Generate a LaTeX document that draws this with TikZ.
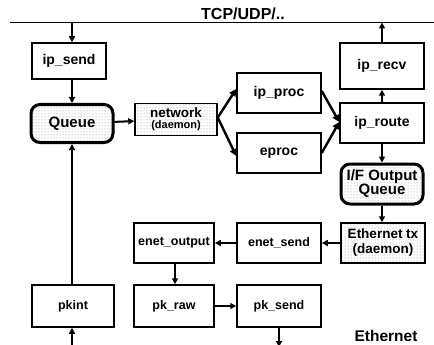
\documentclass[tikz,border=0pt]{standalone}
\usepackage{fontspec}
\setmainfont{Liberation Sans}
\usetikzlibrary{arrows.meta,patterns}
\begin{document}
\begin{tikzpicture}[x=1pt,y=-1pt,
  font=\bfseries\fontsize{14}{15}\selectfont,
  box/.style={draw,line width=1.5pt,minimum width=84pt,minimum height=40pt,inner sep=1pt,align=center},
  small/.style={font=\bfseries\fontsize{12.5}{14}\selectfont},
  dotbox/.style={box,pattern=dots,pattern color=black!45},
  qbox/.style={dotbox,line width=3pt,rounded corners=9pt},
  flow/.style={line width=2pt,-{Triangle[length=6pt,width=6pt]}},
  diag/.style={line width=2.4pt,-{Triangle[length=7pt,width=7pt]}}]
\useasboundingbox (0,0) rectangle (434,345);

% upper protocol layer
\draw[line width=1.6pt] (10,22.5) coordinate (busL) -- (434,22.5) coordinate (busR);
\node[font=\bfseries\fontsize{16}{17}\selectfont,anchor=base] (tcp) at (243,20) {TCP/UDP/..};
\coordinate (busin)  at (72,22.5);
\coordinate (busout) at (382,22.5);

% left column
\node[box,minimum width=74pt,minimum height=36pt] (ipsend) at (69,61) {ip\_send};
\node[qbox,minimum width=82pt,minimum height=38pt,font=\bfseries\fontsize{15}{16}\selectfont] (queue) at (72,123.5) {Queue};
\node[box,small,minimum width=82pt,minimum height=42pt] (pkint) at (73,306) {pkint};

% network daemon and processing
\node[dotbox,minimum width=82pt,minimum height=32pt,inner sep=0pt,font=\bfseries\fontsize{13.5}{13.5}\selectfont] (network) at (176,119.5)
  {network\\[-2.5pt]{\fontsize{11}{11}\selectfont (daemon)}};
\node[box] (ipproc) at (279,93) {ip\_proc};
\node[box] (eproc) at (279,153) {eproc};

% right column
\node[box,minimum height=46pt] (iprecv) at (382,66) {ip\_recv};
\node[box] (iproute) at (382,123) {ip\_route};
\node[qbox,minimum width=82pt,minimum height=40pt,inner sep=0pt,font=\bfseries\fontsize{15}{15}\selectfont] (ifq) at (382,184) {I/F Output\\[-1pt]Queue};
\node[dotbox,inner sep=0pt,font=\bfseries\fontsize{13.5}{15}\selectfont] (ethtx) at (383,243)
  {Ethernet tx\\(daemon)};

% ethernet driver
\node[box,small] (enetsend) at (279,243) {enet\_send};
\node[box,small,minimum width=80pt] (enetout) at (174,243) {enet\_output};
\node[box,small,minimum width=80pt,minimum height=42pt] (pkraw) at (174,306) {pk\_raw};
\node[box,small,minimum height=42pt] (pksend) at (279,306) {pk\_send};

\node[font=\bfseries\fontsize{15.5}{16}\selectfont] (eth) at (386,336) {Ethernet};
\coordinate (wirein)  at (72,345);
\coordinate (wireout) at (279,345);
\coordinate (rawx) at (175,0);

% connectors
\draw[flow] (busin) -- (ipsend.north -| busin);
\draw[flow] (ipsend.south -| busin) -- (queue.north -| busin);
\draw[flow] (pkint.north -| busin) -- (queue.south -| busin);
\draw[flow] (wirein) -- (pkint.south -| wirein);
\draw[flow] (queue) -- (network);
\draw[diag] ([yshift=2pt]network.east) -- ([yshift=4pt]ipproc.west);
\draw[diag] ([yshift=2pt]network.east) -- ([yshift=-3pt]eproc.west);
\draw[diag] ([yshift=2pt]ipproc.east) -- ([yshift=1pt]iproute.west);
\draw[diag] (eproc.east) -- ([yshift=1pt]iproute.west);
\draw[flow] (iproute.north -| busout) -- (iprecv.south -| busout);
\draw[flow] (iprecv.north -| busout) -- (busout);
\draw[flow] (iproute.south -| busout) -- (ifq.north -| busout);
\draw[flow] (ifq.south -| busout) -- (ethtx.north -| busout);
\draw[flow] (ethtx) -- (enetsend);
\draw[flow] (enetsend) -- (enetout);
\draw[flow] (enetout.south -| rawx) -- (pkraw.north -| rawx);
\draw[flow] (pkraw) -- (pksend);
\draw[flow] (pksend.south -| wireout) -- ([yshift=-2pt]wireout);
\end{tikzpicture}
\end{document}
